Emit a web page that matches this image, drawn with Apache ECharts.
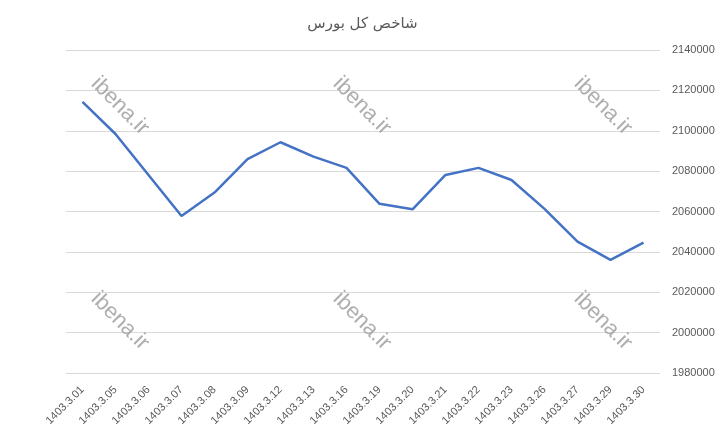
<!DOCTYPE html>
<html><head><meta charset="utf-8">
<script src="https://cdn.jsdelivr.net/npm/echarts@6/dist/echarts.min.js"></script>
<style>html,body{margin:0;padding:0;background:#fff}#c{width:725px;height:433px}</style>
</head><body><div id="c"></div>
<script>
const titleText = 'شاخص کل بورس';
const categories = ['1403.3.01','1403.3.05','1403.3.06','1403.3.07','1403.3.08','1403.3.09','1403.3.12','1403.3.13','1403.3.16','1403.3.19','1403.3.20','1403.3.21','1403.3.22','1403.3.23','1403.3.26','1403.3.27','1403.3.29','1403.3.30'];
const indexValues = [2114300,2098400,2078100,2057800,2069400,2086000,2094300,2087200,2081600,2063800,2061100,2078100,2081600,2075600,2061300,2045100,2036000,2044600];
const yMin = 1980000, yMax = 2140000, yStep = 20000;
const watermark = 'ibena.ir';
const watermarkSpots = [[120,106],[362,106],[603,106],[120,321],[362,321],[603,321]];

const chart = echarts.init(document.getElementById('c'));
chart.setOption({
  animation:false,
  title:{text:titleText,left:'center',top:12,textStyle:{fontFamily:'DejaVu Sans',fontSize:15,fontWeight:'normal',color:'#595959'}},
  grid:{left:66,right:65,top:50,bottom:60},
  xAxis:{type:'category',data:categories,boundaryGap:true,
    axisLine:{show:false},axisTick:{show:false},
    axisLabel:{rotate:45,interval:0,fontSize:11,color:'#595959',fontFamily:'Liberation Sans',margin:15}},
  yAxis:{type:'value',position:'right',min:yMin,max:yMax,interval:yStep,
    axisLine:{show:false},axisTick:{show:false},
    axisLabel:{fontSize:11,color:'#595959',fontFamily:'Liberation Sans',margin:12,formatter:v=>String(v)},
    splitLine:{lineStyle:{color:'#d9d9d9',width:1}}},
  series:[{type:'line',data:indexValues,showSymbol:false,lineStyle:{color:'#4472C4',width:2.5},itemStyle:{color:'#4472C4'}}],
  graphic: watermarkSpots.map(p=>({type:'text',x:p[0],y:p[1],rotation:-Math.PI/4,z:10,
    style:{text:watermark,fontSize:22,fontFamily:'Liberation Sans',fill:'rgba(140,140,140,0.7)',align:'center',verticalAlign:'middle'}}))
});
</script></body></html>
